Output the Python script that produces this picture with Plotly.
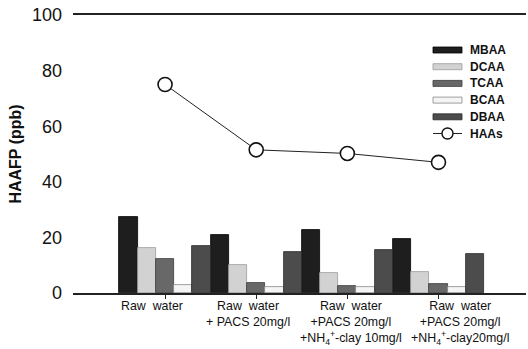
import plotly.graph_objects as go

categories = ["G1", "G2", "G3", "G4"]
cat_labels = [
    "Raw  water",
    "Raw  water<br>+ PACS 20mg/l",
    "Raw  water<br>+PACS 20mg/l<br>+NH<sub>4</sub><sup>+</sup>-clay 10mg/l",
    "Raw  water<br>+PACS 20mg/l<br>+NH<sub>4</sub><sup>+</sup>-clay20mg/l",
]
label_shift = [-13, -8, 4, 21]

mbaa = [27.3, 20.9, 22.7, 19.6]
dcaa = [16.1, 10.0, 7.3, 7.7]
tcaa = [12.2, 3.5, 2.6, 3.4]
bcaa = [2.8, 2.0, 2.3, 2.3]
dbaa = [17.0, 14.9, 15.5, 14.1]
haas = [75.0, 51.5, 50.2, 47.0]

series = [
    ("MBAA", mbaa, "#1e1e1e", "#000000"),
    ("DCAA", dcaa, "#d2d2d2", "#9a9a9a"),
    ("TCAA", tcaa, "#686868", "#3a3a3a"),
    ("BCAA", bcaa, "#f4f4f4", "#8a8a8a"),
    ("DBAA", dbaa, "#4c4c4c", "#2a2a2a"),
]

FONT = "Liberation Sans, Arial, sans-serif"
W, H = 528, 349
ML, MR, MT, MB = 73, 2, 15, 56
PW, PH = W - ML - MR, H - MT - MB


def px_x(x):
    return (x - ML) / PW


def px_y(y):
    return (H - MB - y) / PH


fig = go.Figure()
for name, vals, fill, edge in series:
    fig.add_trace(go.Bar(
        x=categories, y=vals, name=name,
        marker=dict(color=fill, line=dict(color=edge, width=0.8)),
    ))

fig.add_trace(go.Scatter(
    x=categories, y=haas, name="HAAs", mode="lines+markers",
    line=dict(color="#222222", width=1),
    marker=dict(symbol="circle", size=14, color="white",
                line=dict(color="#111111", width=1.6)),
))

for cat, text, sh in zip(categories, cat_labels, label_shift):
    fig.add_annotation(
        x=cat, y=0, xref="x", yref="paper", yanchor="top", xanchor="center",
        text=text, showarrow=False, xshift=sh, yshift=-4, align="center",
        font=dict(family=FONT, size=12.4, color="#111111"),
    )

# Manual compact legend (reference uses wide flat swatches)
row0, row_step = 50, 16.7
sx0, sx1, text_x = 433, 462, 468
for i, (name, vals, fill, edge) in enumerate(series):
    cy = row0 + i * row_step
    fig.add_shape(type="rect", xref="paper", yref="paper",
                  x0=px_x(sx0), x1=px_x(sx1), y0=px_y(cy + 3), y1=px_y(cy - 3),
                  fillcolor=fill, line=dict(color=edge, width=0.8))
    fig.add_annotation(x=px_x(text_x), y=px_y(cy), xref="paper", yref="paper",
                       xanchor="left", yanchor="middle", text="<b>%s</b>" % name,
                       showarrow=False,
                       font=dict(family=FONT, size=12, color="#111111"))
cy = row0 + len(series) * row_step
fig.add_shape(type="line", xref="paper", yref="paper",
              x0=px_x(sx0), x1=px_x(sx1), y0=px_y(cy), y1=px_y(cy),
              line=dict(color="#222222", width=1))
fig.add_shape(type="circle", xref="paper", yref="paper",
              x0=px_x(442), x1=px_x(453), y0=px_y(cy + 5.5), y1=px_y(cy - 5.5),
              fillcolor="white", line=dict(color="#111111", width=1.4))
fig.add_annotation(x=px_x(text_x), y=px_y(cy), xref="paper", yref="paper",
                   xanchor="left", yanchor="middle", text="<b>HAAs</b>",
                   showarrow=False,
                   font=dict(family=FONT, size=12, color="#111111"))

fig.update_layout(
    width=W, height=H,
    margin=dict(l=ML, r=MR, t=MT, b=MB),
    paper_bgcolor="white", plot_bgcolor="white",
    barmode="group", bargap=0, bargroupgap=0,
    font=dict(family=FONT, color="#111111"),
    showlegend=False,
)

fig.update_xaxes(
    type="category", range=[-1.01, 3.96],
    showticklabels=False, showline=True, mirror=True,
    linecolor="#222222", linewidth=1.5,
    ticks="outside", ticklen=4, tickcolor="#222222",
    showgrid=False, zeroline=False,
)
fig.update_yaxes(
    range=[0, 100], tickvals=[0, 20, 40, 60, 80, 100],
    showline=False, showgrid=False, zeroline=False,
    ticks="", ticklabelstandoff=10,
    tickfont=dict(family=FONT, size=18, color="#111111"),
    title=dict(text="<b>HAAFP (ppb)</b>", standoff=6,
               font=dict(family=FONT, size=16, color="#111111")),
)

fig.write_html("out.html")
